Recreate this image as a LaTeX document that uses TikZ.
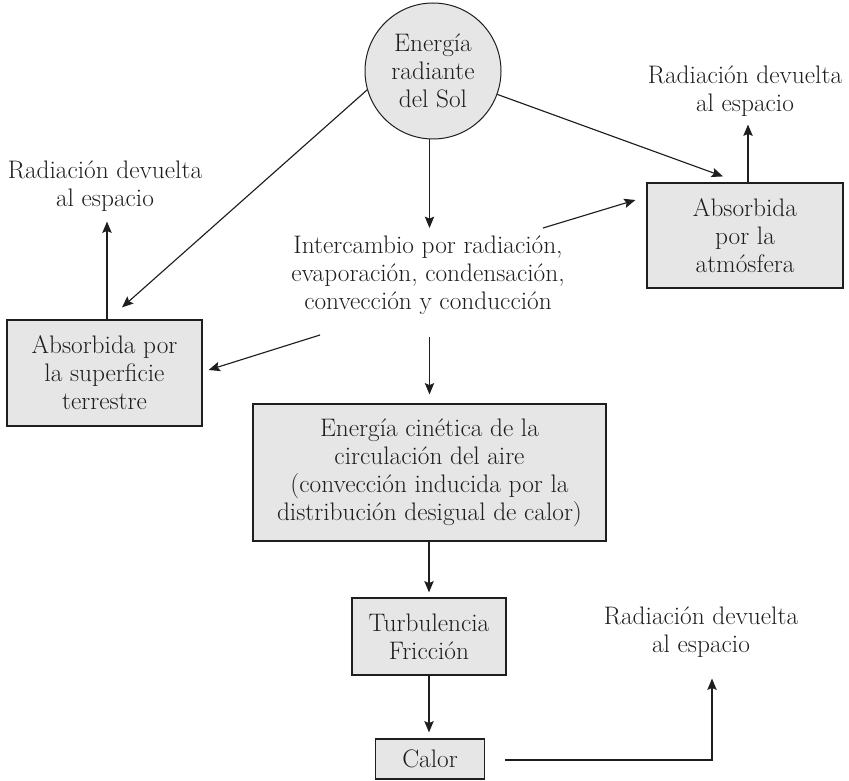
\documentclass[tikz,border=0pt]{standalone}
\usepackage{fontspec}
\usetikzlibrary{arrows.meta,calc}
\definecolor{boxgray}{RGB}{230,230,230}
\definecolor{ink}{RGB}{30,30,30}
\begin{document}
\begin{tikzpicture}[x=0.75pt,y=-0.75pt,
  txt/.style={font=\fontsize{19}{21}\selectfont\addfontfeature{FakeBold=0.35}, align=center, inner sep=0pt, text=ink},
  gbox/.style={txt, draw=ink, fill=boxgray, line width=0.85pt},
  arr/.style={-{Stealth[length=8.5pt,width=7pt,inset=1.5pt]}, line width=0.85pt, ink}]
\useasboundingbox (0,0) rectangle (849,781);

% nodes
\node[gbox, circle, minimum size=102pt, line width=0.75pt] (sun) at (433,71) {Energía\\radiante\\del Sol};
\node[txt] (lab1) at (105,186) {Radiación devuelta\\al espacio};
\node[txt] (lab2) at (745,91) {Radiación devuelta\\al espacio};
\node[txt] (lab3) at (701,632) {Radiación devuelta\\al espacio};
\node[gbox, minimum width=146.25pt, minimum height=79.5pt] (lbox) at (104.5,373) {Absorbida por\\la superficie\\terrestre};
\node[gbox, minimum width=147pt, minimum height=78.75pt] (rbox) at (745,235.5) {Absorbida\\por la\\atmósfera};
\node[txt] (inter) at (428,275) {Intercambio por radiación,\\evaporación, condensación,\\convección y conducción};
\node[gbox, minimum width=264.75pt, minimum height=102.75pt] (ebox) at (429.5,472.5) {Energía cinética de la\\circulación del aire\\(convección inducida por la\\distribución desigual de calor)};
\node[gbox, minimum width=115.5pt, minimum height=57.75pt] (tbox) at (429,636.5) {Turbulencia\\Fricción};
\node[gbox, minimum width=81.75pt, minimum height=30pt] (cbox) at (430,759) {Calor};

% connectors
\draw[arr] (sun.196) -- ($(lbox.north)+(17.5,-12)$);
\draw[arr] (sun.340) -- ($(rbox.north)+(-22,-6)$);
\draw[arr] (sun.south -| ebox.north) -- ($(inter.center)+(1.5,-47)$);
\draw[arr] ($(lbox.north)+(2.5,0)$) -- ($(lab1.south)+(2,10)$);
\draw[arr] ($(rbox.north)+(3,0)$) -- ($(lab2.south)+(3,8)$);
\draw[arr] ($(inter.center)+(115,-47)$) -- ($(rbox.west)+(-11,-35.5)$);
\draw[arr] ($(inter.center)+(-108,60)$) -- ($(lbox.east)+(6,-3)$);
\draw[arr] ($(inter.center)+(1.5,62)$) -- ($(ebox.north)+(0,-9)$);
\draw[arr] (ebox.south -| tbox.north) -- ($(tbox.north)+(0,-5)$);
\draw[arr] (tbox.south) -- ($(cbox.north -| tbox.south)+(0,-6)$);
\draw[arr] ($(cbox.east)+(20,1)$) -| ($(lab3.south)+(11,21)$);
\end{tikzpicture}
\end{document}
